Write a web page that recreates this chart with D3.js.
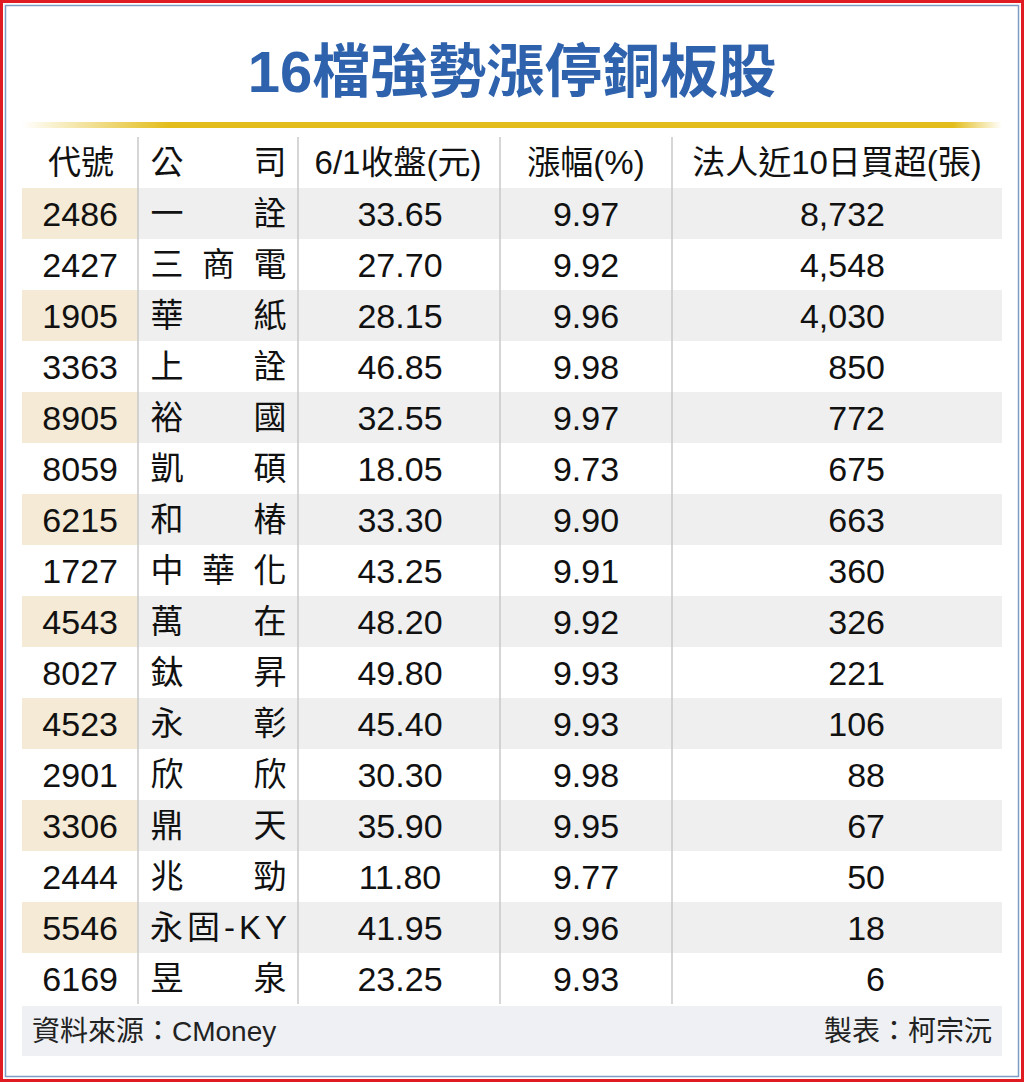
<!DOCTYPE html>
<html><head><meta charset="utf-8">
<script src="https://cdn.jsdelivr.net/npm/d3@7"></script>
<style>body{margin:0;background:#fff}</style>
</head><body>
<svg id="tbl" width="1024" height="1082"></svg>
<script>
const codes = ['2486','2427','1905','3363','8905','8059','6215','1727','4543','8027','4523','2901','3306','2444','5546','6169'];
const names = [['一','詮'],['三','商','電'],['華','紙'],['上','詮'],['裕','國'],['凱','碩'],['和','椿'],['中','華','化'],['萬','在'],['鈦','昇'],['永','彰'],['欣','欣'],['鼎','天'],['兆','勁'],['永固-KY'],['昱','泉']];
const closes = ['33.65','27.70','28.15','46.85','32.55','18.05','33.30','43.25','48.20','49.80','45.40','30.30','35.90','11.80','41.95','23.25'];
const changes = ['9.97','9.92','9.96','9.98','9.97','9.73','9.90','9.91','9.92','9.93','9.93','9.98','9.95','9.77','9.96','9.93'];
const buys = [8732,4548,4030,850,772,675,663,360,326,221,106,88,67,50,18,6];
const headers = ['代號','公司','6/1收盤(元)','漲幅(%)','法人近10日買超(張)'];

const svg = d3.select('#tbl');
const font = "'Liberation Sans','Noto Sans CJK TC',sans-serif";
const colEdges = [22, 138, 298, 500, 672, 1002];

// frame
svg.append('rect').attr('x',1.5).attr('y',1.5).attr('width',1021).attr('height',1079)
  .attr('fill','none').attr('stroke','#e01b22').attr('stroke-width',3);
svg.append('rect').attr('x',5.5).attr('y',5.5).attr('width',1013).attr('height',1071)
  .attr('fill','none').attr('stroke','#7f9cc4').attr('stroke-width',1.5);

svg.append('text').attr('x',512).attr('y',92).attr('text-anchor','middle')
  .style('font-family',font).style('font-size','58px').style('font-weight','bold')
  .style('fill','#2f62ad').text('16檔強勢漲停銅板股');

const grad = svg.append('defs').append('linearGradient').attr('id','gold');
grad.append('stop').attr('offset','0').attr('stop-color','#fff');
grad.append('stop').attr('offset','0.15').attr('stop-color','#e3bd1c');
grad.append('stop').attr('offset','0.95').attr('stop-color','#e3bd1c');
grad.append('stop').attr('offset','1').attr('stop-color','#fff');
svg.append('rect').attr('x',22).attr('y',122).attr('width',980).attr('height',6).attr('fill','url(#gold)');

const y = d3.scaleBand().domain(d3.range(-1, 16)).range([137, 1004]);
const fmt = d3.format(',');

const rows = svg.selectAll('.row').data(d3.range(16)).enter().append('g')
  .attr('transform', i => `translate(0,${y(i)})`);
rows.filter(i => i % 2 === 0).append('rect').attr('x',colEdges[0]).attr('width',colEdges[1]-colEdges[0])
  .attr('height',y.bandwidth()).attr('fill','#f4ead5');
rows.filter(i => i % 2 === 0).append('rect').attr('x',colEdges[1]).attr('width',colEdges[5]-colEdges[1])
  .attr('height',y.bandwidth()).attr('fill','#efefef');

// separators
svg.selectAll('.sep').data(colEdges.slice(1,5)).enter().append('line')
  .attr('x1',d=>d).attr('x2',d=>d).attr('y1',137).attr('y2',1004)
  .attr('stroke','#c8c8c8').attr('stroke-width',1.5);

const txt = (g, x, anchor, f, size) => g.append('text').attr('x',x).attr('y',y.bandwidth()/2)
  .attr('dy','0.36em').attr('text-anchor',anchor).style('font-family',font)
  .style('font-size',(size||34)+'px').style('fill','#111').text(f);

txt(rows, 118, 'end', i => codes[i]);
rows.each(function(i){
  const g = d3.select(this), n = names[i];
  if (n.length === 1) txt(g, 150, 'start', n[0], 33).attr('textLength',137);
  else n.forEach((c,k) => txt(g, 167 + k*(103/(n.length-1)), 'middle', c, 33));
});
txt(rows, 400, 'middle', i => closes[i]);
txt(rows, 586, 'middle', i => changes[i]);
txt(rows, 885, 'end', i => fmt(buys[i]));

// header
const h = svg.append('g').attr('transform',`translate(0,${y(-1)})`);
txt(h, 114, 'end', headers[0], 33);
txt(h, 167, 'middle', '公', 33);
txt(h, 270, 'middle', '司', 33);
txt(h, 398, 'middle', headers[2], 33);
txt(h, 586, 'middle', headers[3], 33);
txt(h, 837, 'middle', headers[4], 33);

// footer
svg.append('rect').attr('x',22).attr('y',1006).attr('width',980).attr('height',50).attr('fill','#eef0f3');
svg.append('text').attr('x',32).attr('y',1041).style('font-family',font).style('font-size','28px')
  .style('fill','#222').text('資料來源：CMoney');
svg.append('text').attr('x',992).attr('y',1041).attr('text-anchor','end').style('font-family',font)
  .style('font-size','28px').style('fill','#222').text('製表：柯宗沅');
</script>
</body></html>
